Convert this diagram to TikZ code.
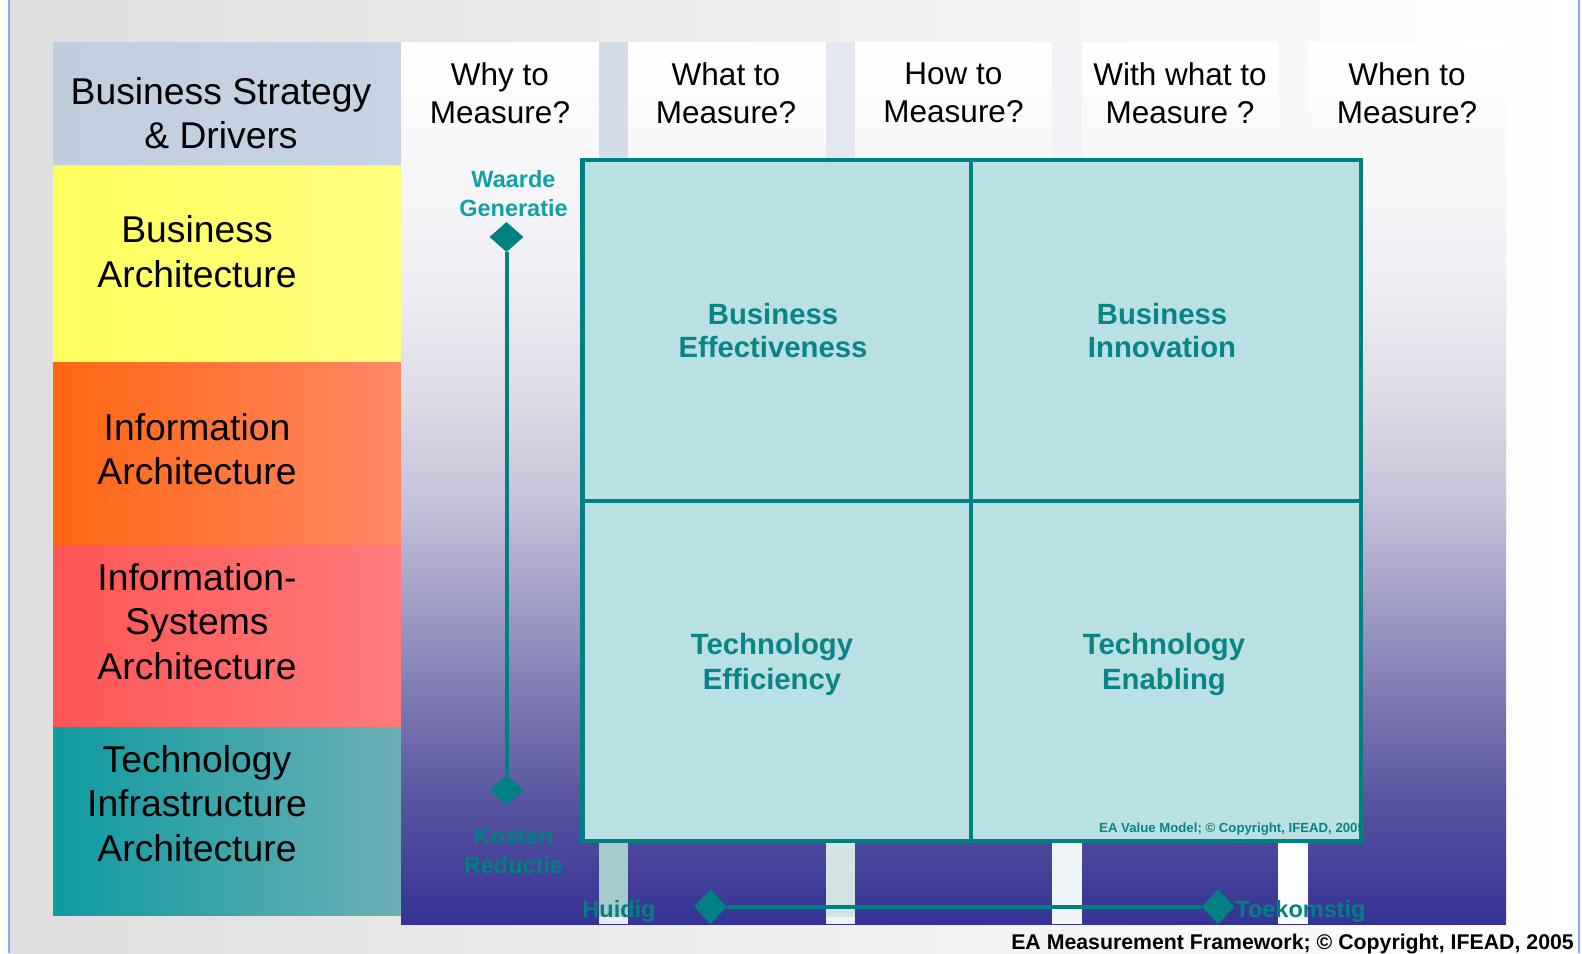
\documentclass[tikz,border=0pt]{standalone}
\usepackage{fontspec}
\setmainfont{Liberation Sans}
\usetikzlibrary{shapes.geometric}

\definecolor{tealD}{HTML}{008080}
\definecolor{tealT}{HTML}{0A8585}
\definecolor{tealL}{HTML}{10A0A6}
\definecolor{boxfill}{HTML}{B9E0E2}
\definecolor{bgL}{HTML}{DEDEDE}
\definecolor{edgeblue}{HTML}{86A8F4}
\definecolor{bsL}{HTML}{C0CEE0}\definecolor{bsR}{HTML}{C8D4E4}
\definecolor{yeL}{HTML}{FFFF5E}\definecolor{yeR}{HTML}{FFFF80}
\definecolor{orL}{HTML}{FF6611}\definecolor{orR}{HTML}{FF8866}
\definecolor{reL}{HTML}{FF5555}\definecolor{reR}{HTML}{FF7B7B}
\definecolor{tiL}{HTML}{0E9BA0}\definecolor{tiR}{HTML}{6CB0B5}
\definecolor{cgA}{HTML}{333399}
\definecolor{cgB}{HTML}{3A3795}
\definecolor{cgC}{HTML}{5552A0}
\definecolor{cgD}{HTML}{7B77B2}
\definecolor{cgE}{HTML}{A09DC5}
\definecolor{cgF}{HTML}{C4C2D8}
\definecolor{cgG}{HTML}{DCDAE6}
\definecolor{cgH}{HTML}{EBEBF1}
\definecolor{cgI}{HTML}{F5F5F8}
\definecolor{gapAt}{HTML}{D3DCE8}\definecolor{gapBt}{HTML}{E3E8F0}
\definecolor{gapCt}{HTML}{F1F3F7}\definecolor{gapDt}{HTML}{F8F8FA}
\definecolor{gapAb}{HTML}{A6CBCE}\definecolor{gapBb}{HTML}{D3E3E3}
\definecolor{gapCb}{HTML}{EFF4F7}\definecolor{gapDb}{HTML}{FAFCFD}

\pgfdeclareverticalshading{colgrad}{100bp}{color(0bp)=(cgA); color(25bp)=(cgA); color(25.9bp)=(cgB); color(31.6bp)=(cgC); color(37.4bp)=(cgD); color(43.1bp)=(cgE); color(48.8bp)=(cgF); color(54.5bp)=(cgG); color(60.2bp)=(cgH); color(65.9bp)=(cgI); color(75bp)=(white); color(100bp)=(white)}

\begin{document}
\begin{tikzpicture}[x=1pt,y=1pt,
  hdr/.style={align=center, inner sep=0pt, font=\fontsize{31.5}{38}\selectfont, execute at begin node=\strut, execute at end node=\strut},
  lay/.style={align=center, inner sep=0pt, font=\fontsize{37.3}{44.5}\selectfont, execute at begin node=\strut, execute at end node=\strut},
  quadA/.style={align=center, inner sep=0pt, text=tealT, font=\bfseries\fontsize{29.3}{33}\selectfont, execute at begin node=\strut, execute at end node=\strut},
  quadB/.style={align=center, inner sep=0pt, text=tealT, font=\bfseries\fontsize{29.3}{35}\selectfont, execute at begin node=\strut, execute at end node=\strut},
  axl/.style={align=center, inner sep=0pt, font=\bfseries\fontsize{23.5}{29.3}\selectfont, execute at begin node=\strut, execute at end node=\strut},
  axs/.style={inner sep=0pt, text=tealD, font=\bfseries\fontsize{23.5}{28}\selectfont},
  vdiam/.style={diamond, fill=tealD, inner sep=0pt, minimum width=34, minimum height=30},
  hdiam/.style={diamond, fill=tealD, inner sep=0pt, minimum width=33, minimum height=35},
  axline/.style={draw=tealD, line width=4},
  grid/.style={draw=tealD, line width=4.5}
]
\useasboundingbox (0,0) rectangle (1582,-953);
\fill[white] (0,0) rectangle (1582,-953);
\shade[left color=bgL, right color=white] (9,0) rectangle (1579,-953);
\fill[edgeblue] (8,0) rectangle (10,-953);
\fill[edgeblue] (1578,0) rectangle (1580,-953);

% left layer boxes
\shade[left color=bsL, right color=bsR] (53,-42) rectangle (401,-164);
\shade[left color=yeL, right color=yeR] (53,-166.7) rectangle (401,-362.7);
\shade[left color=orL, right color=orR] (53,-362.7) rectangle (401,-545);
\shade[left color=reL, right color=reR] (53,-545) rectangle (401,-727.7);
\shade[left color=tiL, right color=tiR] (53,-727.7) rectangle (401,-915);

\node[lay] (bsd) at (221,-119.6) {Business Strategy\\\& Drivers};
\node[lay] (ba) at (197,-258.1) {Business\\Architecture};
\node[lay] (ia) at (197,-455.9) {Information\\Architecture};
\node[lay] (isa) at (197,-628.1) {Information-\\Systems\\Architecture};
\node[lay] (tia) at (197,-809.8) {Technology\\Infrastructure\\Architecture};

% columns
\shade[shading=colgrad] (401,-42) rectangle (1506,-924);
\fill[gapAt] (599,-42) rectangle (628,-160);
\fill[gapBt] (826,-42) rectangle (855,-160);
\fill[gapCt] (1052,-42) rectangle (1082,-160);
\fill[gapDt] (1278,-42) rectangle (1308,-160);
\fill[gapAb] (599,-843) rectangle (628,-917);
\fill[gapBb] (826,-843) rectangle (855,-917);
\fill[gapCb] (1052,-843) rectangle (1082,-917);
\fill[gapDb] (1278,-843) rectangle (1308,-917);
\fill[black!8] (599,-917) rectangle (628,-924);
\fill[black!6] (826,-917) rectangle (855,-924);
\fill[black!4] (1052,-917) rectangle (1082,-924);
\fill[black!2] (1278,-917) rectangle (1308,-924);

\node[hdr] (why) at (500,-98.3) {Why to\\Measure?};
\node[hdr] (what) at (726,-98.3) {What to\\Measure?};
\node[hdr] (how) at (953.5,-98.3) {How to\\Measure?};
\node[hdr] (withwhat) at (1180,-98.3) {With what to\\Measure ?};
\node[hdr] (when) at (1407,-98.3) {When to\\Measure?};

% value model box
\fill[boxfill] (582.5,-160) rectangle (1361,-841);
\node[quadA] (be) at (773,-335.6) {Business\\Effectiveness};
\node[quadA] (bi) at (1162,-335.6) {Business\\Innovation};
\node[quadB] (te) at (772,-666.8) {Technology\\Efficiency};
\node[quadB] (ten) at (1164,-666.8) {Technology\\Enabling};
\node[anchor=base west, inner sep=0pt, text=tealT, font=\bfseries\fontsize{13.2}{15}\selectfont] (vm) at (1099,-832) {EA Value Model; \textcopyright\ Copyright, IFEAD, 2005};
\draw[grid] (582.5,-160) rectangle (1361,-841);
\draw[grid] (971,-160) -- (971,-841);
\draw[grid] (582.5,-501) -- (1361,-501);

% axes
\node[vdiam] (vtop) at (506.5,-237) {};
\node[vdiam] (vbot) at (506.5,-790) {};
\draw[axline] (vtop) -- (vbot);
\node[hdiam] (hl) at (710.5,-906.7) {};
\node[hdiam] (hr) at (1218,-906.7) {};
\draw[axline] (hl) -- (hr);

\node[axl, text=tealL] (wg) at (513.5,-198.1) {Waarde\\Generatie};
\node[axl, text=tealD] (kr) at (513.5,-855.6) {Kosten\\Reductie};
\node[axs, anchor=base] (hu) at (619,-917) {Huidig};
\node[axs, anchor=base] (tk) at (1300.5,-917) {Toekomstig};

\node[anchor=base east, inner sep=0pt, font=\bfseries\fontsize{21.3}{24}\selectfont] (copy) at (1574,-949) {EA Measurement Framework; \textcopyright\ Copyright, IFEAD, 2005};
\end{tikzpicture}
\end{document}
